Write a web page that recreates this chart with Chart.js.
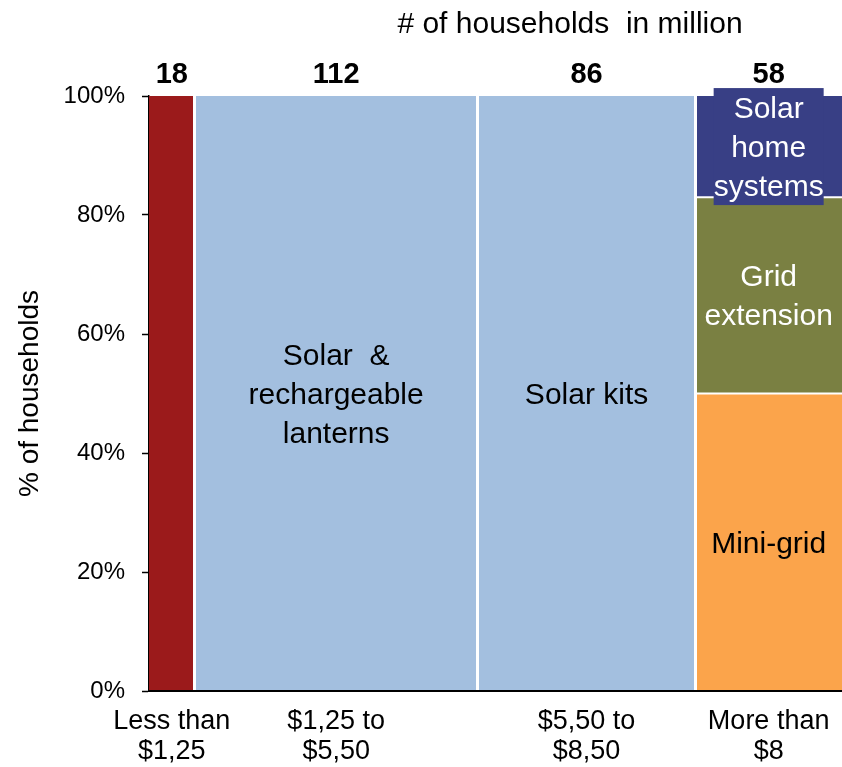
<!DOCTYPE html>
<html>
<head>
<meta charset="utf-8">
<title>Households by income group</title>
<script src="https://cdn.jsdelivr.net/npm/chart.js@4.4.1/dist/chart.umd.min.js"></script>
<style>
  html, body { margin: 0; padding: 0; background: #fff; }
  #wrap { width: 842px; height: 767px; position: relative; }
</style>
</head>
<body>
<div id="wrap"><canvas id="mekko"></canvas></div>
<script>
// income groups along the bottom, column widths = households (million)
const incomeGroups = [['Less than', '$1,25'], ['$1,25 to', '$5,50'], ['$5,50 to', '$8,50'], ['More than', '$8']];
const households = [18, 112, 86, 58];

// one entry per coloured block: which column, from/to share (%), text inside
const segColumn = [0, 1, 2, 3, 3, 3];
const segFrom = [0, 0, 0, 0, 50, 83];
const segTo = [100, 100, 100, 50, 83, 100];
const segText = [[], ['Solar  &', 'rechargeable', 'lanterns'], ['Solar kits'], ['Mini-grid'], ['Grid', 'extension'], ['Solar', 'home', 'systems']];

const segColors = ['#9b1a1b', '#a3bfdf', '#a3bfdf', '#fba44b', '#7a8042', '#383f85'];
const segTextColors = ['#000', '#000', '#000', '#000', '#fff', '#fff'];
const FONT = '"Liberation Sans", Arial, sans-serif';

// cumulative column edges
const edges = [0];
households.forEach(h => edges.push(edges[edges.length - 1] + h));
const total = edges[edges.length - 1];
const centers = households.map((h, i) => edges[i] + h / 2);
const inner = edges.slice(1, -1);

// each block is a flat line at its top, filled down to its bottom value
const datasets = segColumn.map((c, i) => ({
  data: [{ x: edges[c], y: segTo[i] }, { x: edges[c + 1], y: segTo[i] }],
  fill: { value: segFrom[i] },
  backgroundColor: segColors[i],
  borderColor: '#fff',
  borderWidth: segTo[i] < 100 ? 2 : 0,
  pointRadius: 0,
  tension: 0
}));

const overlay = {
  id: 'overlay',
  afterDraw(chart) {
    const { ctx, scales: { x, y } } = chart;
    ctx.save();
    ctx.textAlign = 'center';
    ctx.textBaseline = 'alphabetic';
    ctx.fillStyle = '#000';
    ctx.font = '30px ' + FONT;
    ctx.fillText('# of households  in million', 570, 33);

    ctx.font = 'bold 29px ' + FONT;
    households.forEach((n, i) => {
      ctx.fillText(String(n), x.getPixelForValue(centers[i]), 83);
    });

    ctx.font = '30px ' + FONT;
    ctx.textBaseline = 'middle';
    const lh = 39;
    segText.forEach((lines, i) => {
      if (!lines.length) return;
      const c = segColumn[i];
      const cx = x.getPixelForValue((edges[c] + edges[c + 1]) / 2);
      const cy = y.getPixelForValue((segFrom[i] + segTo[i]) / 2);
      const h = lines.length * lh;
      if (segTextColors[i] === '#fff' && lines.length === 3) {
        // label box sits on top of the segment
        const w = Math.max(...lines.map(l => ctx.measureText(l).width));
        ctx.fillStyle = segColors[i];
        ctx.fillRect(cx - w / 2, cy - h / 2, w, h);
      }
      ctx.fillStyle = segTextColors[i];
      lines.forEach((l, k) => {
        ctx.fillText(l, cx, cy - h / 2 + lh / 2 + k * lh + 2);
      });
    });
    ctx.restore();
  }
};

new Chart(document.getElementById('mekko'), {
  type: 'line',
  data: { datasets },
  options: {
    responsive: true,
    maintainAspectRatio: false,
    animation: false,
    events: [],
    layout: { padding: { top: 96, right: 0, left: 0, bottom: 0 } },
    plugins: { legend: { display: false }, tooltip: { enabled: false } },
    scales: {
      x: {
        type: 'linear',
        min: 0,
        max: total,
        afterBuildTicks: scale => {
          scale.ticks = [...centers, ...inner].sort((a, b) => a - b).map(v => ({ value: v }));
        },
        afterFit: scale => {
          scale.height = 76;
          scale.paddingLeft = 0;
          scale.paddingRight = 0;
        },
        ticks: {
          autoSkip: false,
          maxRotation: 0,
          padding: 16,
          color: '#000',
          font: { family: FONT, size: 27, lineHeight: 1.1 },
          callback: v => {
            const i = centers.indexOf(v);
            return i >= 0 ? incomeGroups[i] : '';
          }
        },
        grid: {
          z: 1,
          drawTicks: false,
          lineWidth: 3,
          color: ctx => (ctx.tick && inner.includes(ctx.tick.value)) ? '#fff' : 'rgba(0,0,0,0)'
        },
        border: { display: true, color: '#000', width: 2, z: 1 }
      },
      y: {
        min: 0,
        max: 100,
        afterFit: scale => { scale.width = 149; },
        ticks: {
          stepSize: 20,
          padding: 17,
          color: '#000',
          font: { family: FONT, size: 24 },
          callback: v => v + '%'
        },
        grid: {
          drawOnChartArea: false,
          drawTicks: true,
          tickLength: 7,
          tickColor: '#000',
          tickWidth: 1.5
        },
        border: { display: true, color: '#000', width: 1.5 },
        title: {
          display: true,
          text: '% of households',
          color: '#000',
          font: { family: FONT, size: 28 },
          padding: { top: 13, bottom: 0 }
        }
      }
    }
  },
  plugins: [overlay]
});
</script>
</body>
</html>
